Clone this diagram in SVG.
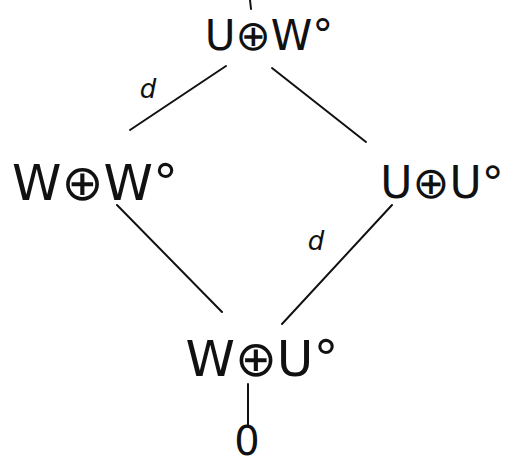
<svg xmlns="http://www.w3.org/2000/svg" width="514" height="464" viewBox="0 0 514 464">
<style>
.lbl{font-family:"DejaVu Sans","Liberation Sans",sans-serif;fill:#111;}
.big{font-size:50px;}
.sm{font-size:26px;font-style:italic;}
.edge{stroke:#111;stroke-width:2;fill:none;stroke-linecap:round;}
</style>
<rect width="514" height="464" fill="#fff"/>
<g id="connectors">
<path class="edge" d="M250 0 L251 9"/>
<path class="edge" d="M226 66 L130 130"/>
<path class="edge" d="M272 68 L366 142"/>
<path class="edge" d="M117 205 L222 312"/>
<path class="edge" d="M392 205 L282 324"/>
<path class="edge" d="M248 384 L248 426"/>
</g>
<g id="node-top"><text class="lbl big" x="269" y="50" text-anchor="middle" font-size="42" style="font-size:42px">U⊕W°</text></g>
<g id="node-left"><text class="lbl big" x="95" y="200" text-anchor="middle">W⊕W°</text></g>
<g id="node-right"><text class="lbl big" x="442" y="198" text-anchor="middle" style="font-size:44px">U⊕U°</text></g>
<g id="node-bottom"><text class="lbl big" x="262" y="376" text-anchor="middle">W⊕U°</text></g>
<g id="node-zero"><text class="lbl big" x="247" y="455" text-anchor="middle" style="font-size:40px">0</text></g>
<g id="label-d1"><text class="lbl sm" x="148" y="98" text-anchor="middle">d</text></g>
<g id="label-d2"><text class="lbl sm" x="316" y="250" text-anchor="middle">d</text></g>
</svg>
